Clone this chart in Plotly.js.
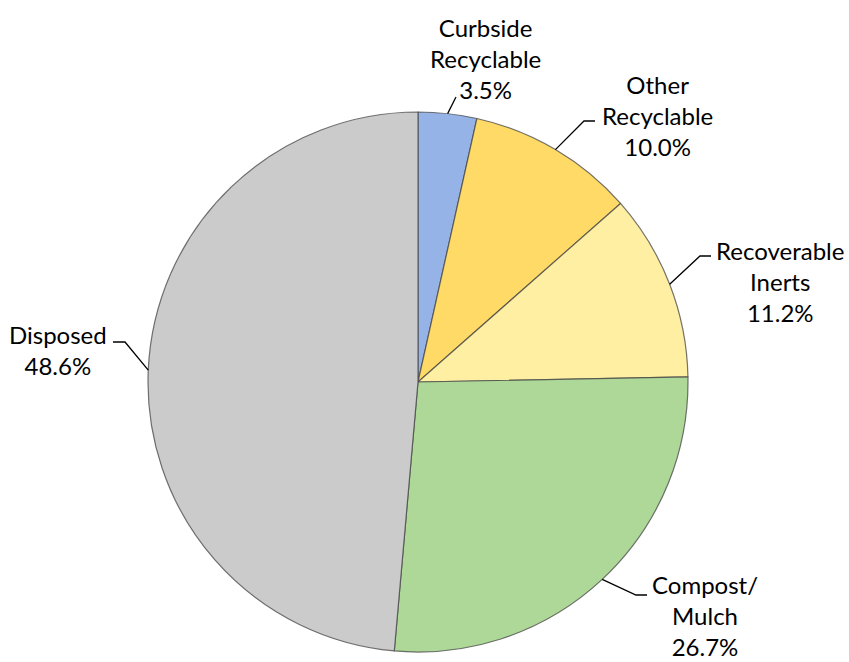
<!DOCTYPE html>
<html>
<head>
<meta charset="utf-8">
<script src="https://cdn.plot.ly/plotly-3.0.1.min.js"></script>
<style>html,body{margin:0;padding:0;background:#fff}#chart{width:849px;height:662px}</style>
</head>
<body>
<div id="chart"></div>
<script>
// ---- data ----
var categories = ["Curbside Recyclable", "Other Recyclable", "Recoverable Inerts", "Compost/Mulch", "Disposed"];
var labelLines = ["Curbside<br>Recyclable", "Other<br>Recyclable", "Recoverable<br>Inerts", "Compost/<br>Mulch", "Disposed"];
var shares = [3.5, 10.0, 11.2, 26.7, 48.6];
var colors = ["#95B3E7", "#FFDA66", "#FFEFA3", "#AED897", "#CBCBCB"];

// ---- layout (pixels) ----
var W = 849, H = 662;
var cx = 418, cy = 382, R = 270;
// per label: text centre, leader corner, leader end
var labelPos = [
  {tx: 486, ty: 58,  corner: [456, 97],  end: null},
  {tx: 657, ty: 115, corner: [584, 121], end: [595, 121]},
  {tx: 780, ty: 281, corner: [700, 256], end: [711, 256]},
  {tx: 705, ty: 615, corner: [636, 595], end: [647, 595]},
  {tx: 58,  ty: 350, corner: [125, 342], end: [113, 342]}
];

function px(x){ return x / W; }
function py(y){ return 1 - y / H; }

var total = shares.reduce(function(a,b){return a+b;}, 0);
var annotations = [], shapes = [];
var cum = 0;
shares.forEach(function(v, i){
  var mid = 2 * Math.PI * (cum + v / 2) / total;
  cum += v;
  var ax = cx + R * Math.sin(mid), ay = cy - R * Math.cos(mid);
  var L = labelPos[i];
  var path = "M " + px(ax) + " " + py(ay) + " L " + px(L.corner[0]) + " " + py(L.corner[1]);
  if (L.end) path += " L " + px(L.end[0]) + " " + py(L.end[1]);
  shapes.push({type: "path", xref: "paper", yref: "paper", path: path,
               line: {color: "#000", width: 1.3}});
  annotations.push({
    xref: "paper", yref: "paper", x: px(L.tx), y: py(L.ty),
    xanchor: "center", yanchor: "middle", showarrow: false, align: "center",
    borderpad: 0,
    text: labelLines[i] + "<br>" + (v / total * 100).toFixed(1) + "%",
    font: {family: "Lato, 'Open Sans', sans-serif", size: 24, color: "#000"}
  });
});

var trace = {
  type: "pie",
  labels: categories,
  values: shares,
  sort: false,
  direction: "clockwise",
  rotation: 0,
  textinfo: "none",
  hoverinfo: "label+percent",
  marker: {colors: colors, line: {color: "rgba(70,70,70,0.75)", width: 1.2}},
  domain: {x: [px(cx - R), px(cx + R)], y: [py(cy + R), py(cy - R)]},
  showlegend: false
};

var layout = {
  width: W, height: H,
  margin: {l: 0, r: 0, t: 0, b: 0},
  paper_bgcolor: "#fff",
  showlegend: false,
  annotations: annotations,
  shapes: shapes
};

Plotly.newPlot("chart", [trace], layout, {displayModeBar: false, staticPlot: true});
</script>
</body>
</html>
